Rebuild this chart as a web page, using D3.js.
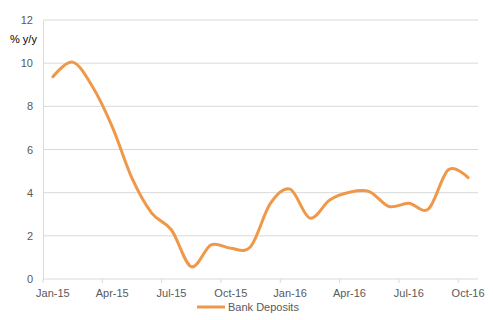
<!DOCTYPE html>
<html>
<head>
<meta charset="utf-8">
<script src="https://cdn.jsdelivr.net/npm/d3@7"></script>
<style>
  body { margin: 0; background: #fff; }
  svg { display: block; font-family: "Liberation Sans", Arial, sans-serif; }
</style>
</head>
<body>
<svg width="493" height="320"></svg>
<script>
// monthly data, Jan-15 .. Oct-16
var months = ["Jan-15","Feb-15","Mar-15","Apr-15","May-15","Jun-15","Jul-15","Aug-15","Sep-15","Oct-15","Nov-15","Dec-15",
              "Jan-16","Feb-16","Mar-16","Apr-16","May-16","Jun-16","Jul-16","Aug-16","Sep-16","Oct-16"];
var deposits = [9.37, 10.05, 8.92, 7.06, 4.67, 3.05, 2.27, 0.57, 1.58, 1.42, 1.5, 3.5,
                4.16, 2.82, 3.66, 4.02, 4.05, 3.36, 3.51, 3.25, 5.06, 4.70];
var xLabels = ["Jan-15","Apr-15","Jul-15","Oct-15","Jan-16","Apr-16","Jul-16","Oct-16"];
var yTicks = [0, 2, 4, 6, 8, 10, 12];

var svg = d3.select("svg"),
    margin = {top: 20, right: 15, bottom: 41, left: 43},
    width = +svg.attr("width") - margin.left - margin.right,
    height = +svg.attr("height") - margin.top - margin.bottom;

var x = d3.scaleBand().domain(months).range([0, width]),
    y = d3.scaleLinear().domain([0, 12]).range([height, 0]);

var g = svg.append("g")
    .attr("transform", "translate(" + margin.left + "," + margin.top + ")");

// gridlines
g.append("g")
    .selectAll("line")
    .data(yTicks.filter(function(d) { return d > 0; }))
    .enter().append("line")
    .attr("x1", 0).attr("x2", width)
    .attr("y1", function(d) { return y(d); })
    .attr("y2", function(d) { return y(d); })
    .attr("stroke", "#d9d9d9");

// y axis
var yAxis = g.append("g")
    .call(d3.axisLeft(y).tickValues(yTicks).tickSize(0).tickPadding(10));
yAxis.select(".domain").attr("stroke", "#d9d9d9");
yAxis.selectAll("text").attr("fill", "#595959").style("font-size", "11px");

// x axis: ticks at category boundaries every 3 months, labels centered on month
var xAxis = g.append("g").attr("transform", "translate(0," + height + ")");
xAxis.append("line")
    .attr("x1", 0).attr("x2", width)
    .attr("stroke", "#d9d9d9");
xAxis.selectAll(".tick")
    .data(xLabels)
    .enter().append("line")
    .attr("x1", function(d) { return x(d); })
    .attr("x2", function(d) { return x(d); })
    .attr("y1", 0).attr("y2", 4)
    .attr("stroke", "#d9d9d9");
xAxis.selectAll("text")
    .data(xLabels)
    .enter().append("text")
    .attr("x", function(d) { return x(d) + x.bandwidth() / 2; })
    .attr("y", 18)
    .attr("text-anchor", "middle")
    .attr("fill", "#595959")
    .style("font-size", "11px")
    .text(function(d) { return d; });

// unit label
svg.append("text")
    .attr("x", 10).attr("y", 43)
    .attr("fill", "#000")
    .style("font-size", "11px")
    .text("% y/y");

// line
var line = d3.line()
    .x(function(d, i) { return x(months[i]) + x.bandwidth() / 2; })
    .y(function(d) { return y(d); })
    .curve(d3.curveCatmullRom.alpha(0));

g.append("path")
    .datum(deposits)
    .attr("fill", "none")
    .attr("stroke", "#f0984a")
    .attr("stroke-width", 3)
    .attr("stroke-linecap", "round")
    .attr("d", line);

// legend
var lg = svg.append("g").attr("transform", "translate(197,307)");
lg.append("line")
    .attr("x1", 0).attr("x2", 28)
    .attr("stroke", "#f0984a")
    .attr("stroke-width", 3);
lg.append("text")
    .attr("x", 31).attr("y", 4)
    .attr("fill", "#595959")
    .style("font-size", "11px")
    .text("Bank Deposits");
</script>
</body>
</html>
